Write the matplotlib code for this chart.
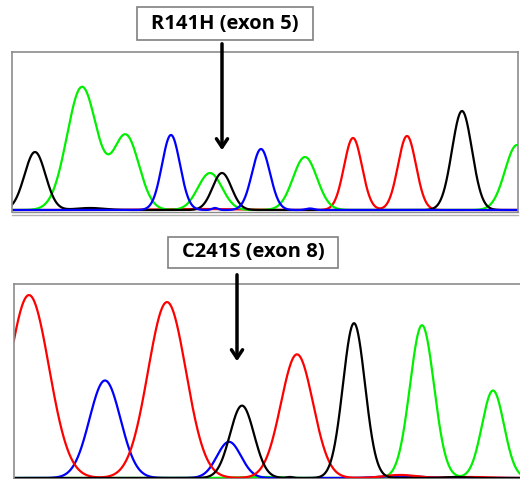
import numpy as np
import matplotlib
matplotlib.use("Agg")
from matplotlib import pyplot as plt
from matplotlib.patches import Rectangle, FancyArrowPatch

W, H = 520, 479

# peaks per trace: (position in scan units, height, width sigma)
top_green = [(82, 123, 15), (126, 74, 13), (210, 37, 12), (305, 53, 12), (517, 65, 12)]
top_black = [(35, 58, 10.5), (90, 2, 14), (222, 37, 9.5), (462, 99, 10)]
top_blue = [(171, 75, 9), (215, 2, 3), (261, 61, 9), (310, 1.5, 4)]
top_red = [(353, 72, 9), (407, 74, 9), (200, 1, 40)]

bot_red = [(29, 182, 20), (167, 175, 19), (297, 123, 16), (400, 3, 16), (470, 1, 20)]
bot_blue = [(105, 97, 15.5), (229, 36, 12), (400, 2, 20)]
bot_black = [(242, 72, 12), (354, 154, 11), (290, 1, 3), (455, 1, 10)]
bot_green = [(422, 152, 12), (493, 87, 11), (260, 1, 20)]

top_label = "R141H (exon 5)"
bot_label = "C241S (exon 8)"


def trace(x, peaks):
    y = np.zeros_like(x)
    for mu, h, s in peaks:
        y += h * np.exp(-0.5 * ((x - mu) / s) ** 2)
    return y


def px_axes(fig, x0, y0, x1, y1):
    # axes from pixel box (top-left origin)
    return fig.add_axes([x0 / W, 1 - y1 / H, (x1 - x0) / W, (y1 - y0) / H])


fig = plt.figure(figsize=(W / 100, H / 100), dpi=100)
fig.patch.set_facecolor("white")

# top panel
ax1 = px_axes(fig, 12, 52, 518, 212)
x = np.linspace(0, 530, 2000)
for peaks, c in [(top_red, "#ff0000"), (top_green, "#00f000"),
                 (top_black, "black"), (top_blue, "#0000ff")]:
    ax1.plot(x, trace(x, peaks), color=c, lw=1.6)
ax1.set_xlim(12, 518)
ax1.set_ylim(-2, 158)

# bottom panel
ax2 = px_axes(fig, 14, 284, 530, 479)
for peaks, c in [(bot_green, "#00f000"), (bot_blue, "#0000ff"),
                 (bot_red, "#ff0000"), (bot_black, "black")]:
    ax2.plot(x, trace(x, peaks), color=c, lw=1.6)
ax2.set_xlim(14, 530)
ax2.set_ylim(-1, 193)

for ax in (ax1, ax2):
    ax.set_xticks([])
    ax.set_yticks([])
    for s in ax.spines.values():
        s.set_color("#8c8c8c")
        s.set_linewidth(1.2)
ax1.spines["bottom"].set_linewidth(1.0)

# second thin line under top panel
fig.add_artist(plt.Line2D([12 / W, 518 / W], [1 - 214.5 / H] * 2,
                          color="#b0b0b0", lw=1.0))

# label boxes
for (x0, y0, x1, y1), txt in [((137, 7, 313, 40), top_label),
                              ((168, 237, 338, 268), bot_label)]:
    fig.add_artist(Rectangle((x0 / W, 1 - y1 / H), (x1 - x0) / W, (y1 - y0) / H,
                             transform=fig.transFigure, facecolor="white",
                             edgecolor="#808080", lw=1.2))
    fig.text((x0 + x1) / 2 / W, 1 - (y0 + y1) / 2 / H, txt, ha="center",
             va="center", fontsize=14.5, fontweight="bold", family="Open Sans")

# arrows
for xa, ya0, ya1 in [(222, 41, 153), (237, 272, 364)]:
    fig.add_artist(FancyArrowPatch(
        (xa / W, 1 - ya0 / H), (xa / W, 1 - ya1 / H), transform=fig.transFigure,
        arrowstyle="->,head_width=4,head_length=6", color="black", lw=2.5))

fig.savefig("out.png", dpi=100)
